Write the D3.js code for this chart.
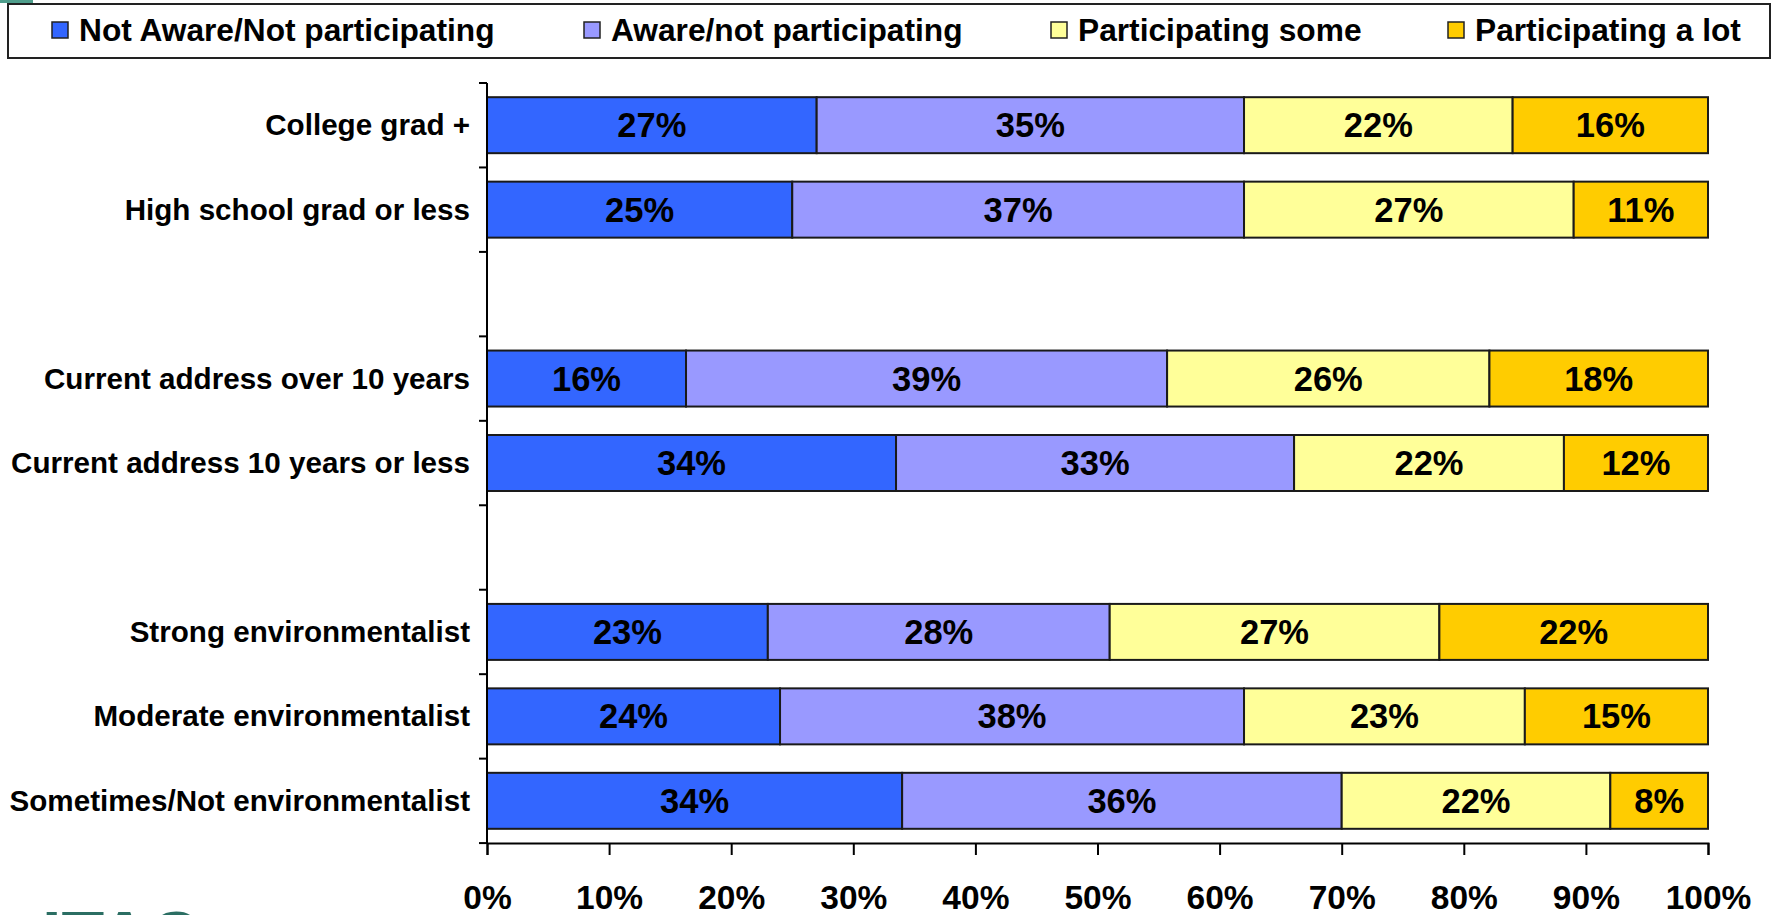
<!DOCTYPE html>
<html>
<head>
<meta charset="utf-8">
<script src="https://cdn.jsdelivr.net/npm/d3@7"></script>
<style>
  body { margin: 0; background: #fff; }
  svg { display: block; font-family: "Liberation Sans", Arial, sans-serif; font-weight: bold; }
</style>
</head>
<body>
<div id="chart"></div>
<script>
// categories, top to bottom ("" = empty spacer row)
var categories = ["College grad +", "High school grad or less", "",
                  "Current address over 10 years", "Current address 10 years or less", "",
                  "Strong environmentalist", "Moderate environmentalist", "Sometimes/Not environmentalist"];

var seriesNames = ["Not Aware/Not participating", "Aware/not participating", "Participating some", "Participating a lot"];
var seriesColors = ["#3366FF", "#9999FF", "#FFFF99", "#FFCC00"];

var notAware   = [27, 25, null, 16.3, 33.5, null, 23, 24, 34];
var awareNot   = [35, 37, null, 39.4, 32.6, null, 28, 38, 36];
var partSome   = [22, 27, null, 26.4, 22.1, null, 27, 23, 22];
var partALot   = [16, 11, null, 17.9, 11.8, null, 22, 15, 8];

var xTicks = [0, 10, 20, 30, 40, 50, 60, 70, 80, 90, 100];

var W = 1784, H = 915;
var margin = {top: 83, left: 487, right: 76, bottom: 72};
var plotW = W - margin.left - margin.right,
    plotH = H - margin.top - margin.bottom;

var svg = d3.select("#chart").append("svg")
    .attr("width", W)
    .attr("height", H);

// little decorations from the slide
svg.append("rect").attr("x", 0).attr("y", 0).attr("width", 33).attr("height", 3).attr("fill", "#4f9e8c");
svg.append("text").attr("x", 42).attr("y", 961).attr("font-size", 70).attr("fill", "#2b6e63").text("ITAC");

var x = d3.scaleLinear().domain([0, 100]).range([0, plotW]);
var y = d3.scaleBand().domain(d3.range(categories.length)).range([0, plotH]).paddingInner(0.337).paddingOuter(0.168);

var g = svg.append("g").attr("transform", "translate(" + margin.left + "," + margin.top + ")");

var rows = categories.map(function(c, i) {
    return {cat: c, idx: i, vals: [notAware[i], awareNot[i], partSome[i], partALot[i]]};
}).filter(function(d) { return d.vals[0] != null; });

rows.forEach(function(r) {
    var x0 = 0;
    r.segs = r.vals.map(function(v, k) {
        var s = {x0: x0, x1: x0 + v, v: v, k: k, idx: r.idx};
        x0 += v;
        return s;
    });
});

var segs = [].concat.apply([], rows.map(function(r) { return r.segs; }));

g.selectAll("rect.seg")
    .data(segs)
    .enter()
    .append("rect")
    .attr("class", "seg")
    .attr("x", function(d) { return x(d.x0); })
    .attr("y", function(d) { return y(d.idx); })
    .attr("width", function(d) { return x(d.x1) - x(d.x0); })
    .attr("height", y.bandwidth())
    .attr("fill", function(d) { return seriesColors[d.k]; })
    .attr("stroke", "#1a1a1a")
    .attr("stroke-width", 2);

g.selectAll("text.val")
    .data(segs)
    .enter()
    .append("text")
    .attr("class", "val")
    .attr("x", function(d) { return x((d.x0 + d.x1) / 2); })
    .attr("y", function(d) { return y(d.idx) + y.bandwidth() / 2 + 12; })
    .attr("text-anchor", "middle")
    .attr("font-size", 34.5)
    .attr("fill", "#000")
    .text(function(d) { return Math.round(d.v) + "%"; });

// category labels
g.selectAll("text.cat")
    .data(rows)
    .enter()
    .append("text")
    .attr("class", "cat")
    .attr("x", -17)
    .attr("y", function(d) { return y(d.idx) + y.bandwidth() / 2 + 10; })
    .attr("text-anchor", "end")
    .attr("font-size", 29.6)
    .attr("fill", "#000")
    .text(function(d) { return d.cat; });

// y axis with ticks between categories
var step = y.step();
g.append("line").attr("x1", 0).attr("x2", 0).attr("y1", 0).attr("y2", plotH)
    .attr("stroke", "#000").attr("stroke-width", 2);
g.selectAll("line.ytick")
    .data(d3.range(categories.length + 1))
    .enter()
    .append("line")
    .attr("class", "ytick")
    .attr("x1", -8).attr("x2", 0)
    .attr("y1", function(d) { return d * step; })
    .attr("y2", function(d) { return d * step; })
    .attr("stroke", "#000").attr("stroke-width", 2);

// x axis
var xAxis = g.append("g")
    .attr("transform", "translate(0," + plotH + ")")
    .call(d3.axisBottom(x).tickValues(xTicks).tickSize(12).tickPadding(30)
          .tickFormat(function(d) { return d + "%"; }));
xAxis.select(".domain").attr("stroke", "#000").attr("stroke-width", 2);
xAxis.selectAll(".tick line").attr("stroke", "#000").attr("stroke-width", 2);
xAxis.selectAll(".tick text")
    .attr("font-family", "'Liberation Sans', Arial, sans-serif")
    .attr("font-weight", "bold")
    .attr("font-size", 33.5)
    .attr("fill", "#000");

// legend
var legend = svg.append("g");
legend.append("rect")
    .attr("x", 8).attr("y", 4).attr("width", 1762).attr("height", 54)
    .attr("fill", "#fff").attr("stroke", "#222").attr("stroke-width", 2);
var legendX = [52, 584, 1051, 1448];
var items = legend.selectAll("g.item")
    .data(seriesNames)
    .enter()
    .append("g")
    .attr("class", "item")
    .attr("transform", function(d, i) { return "translate(" + legendX[i] + ",0)"; });
items.append("rect")
    .attr("x", 0).attr("y", 22).attr("width", 16).attr("height", 16)
    .attr("fill", function(d, i) { return seriesColors[i]; })
    .attr("stroke", "#222").attr("stroke-width", 1.5);
items.append("text")
    .attr("x", 27).attr("y", 41)
    .attr("font-size", 31.7)
    .attr("fill", "#000")
    .text(function(d) { return d; });
</script>
</body>
</html>
